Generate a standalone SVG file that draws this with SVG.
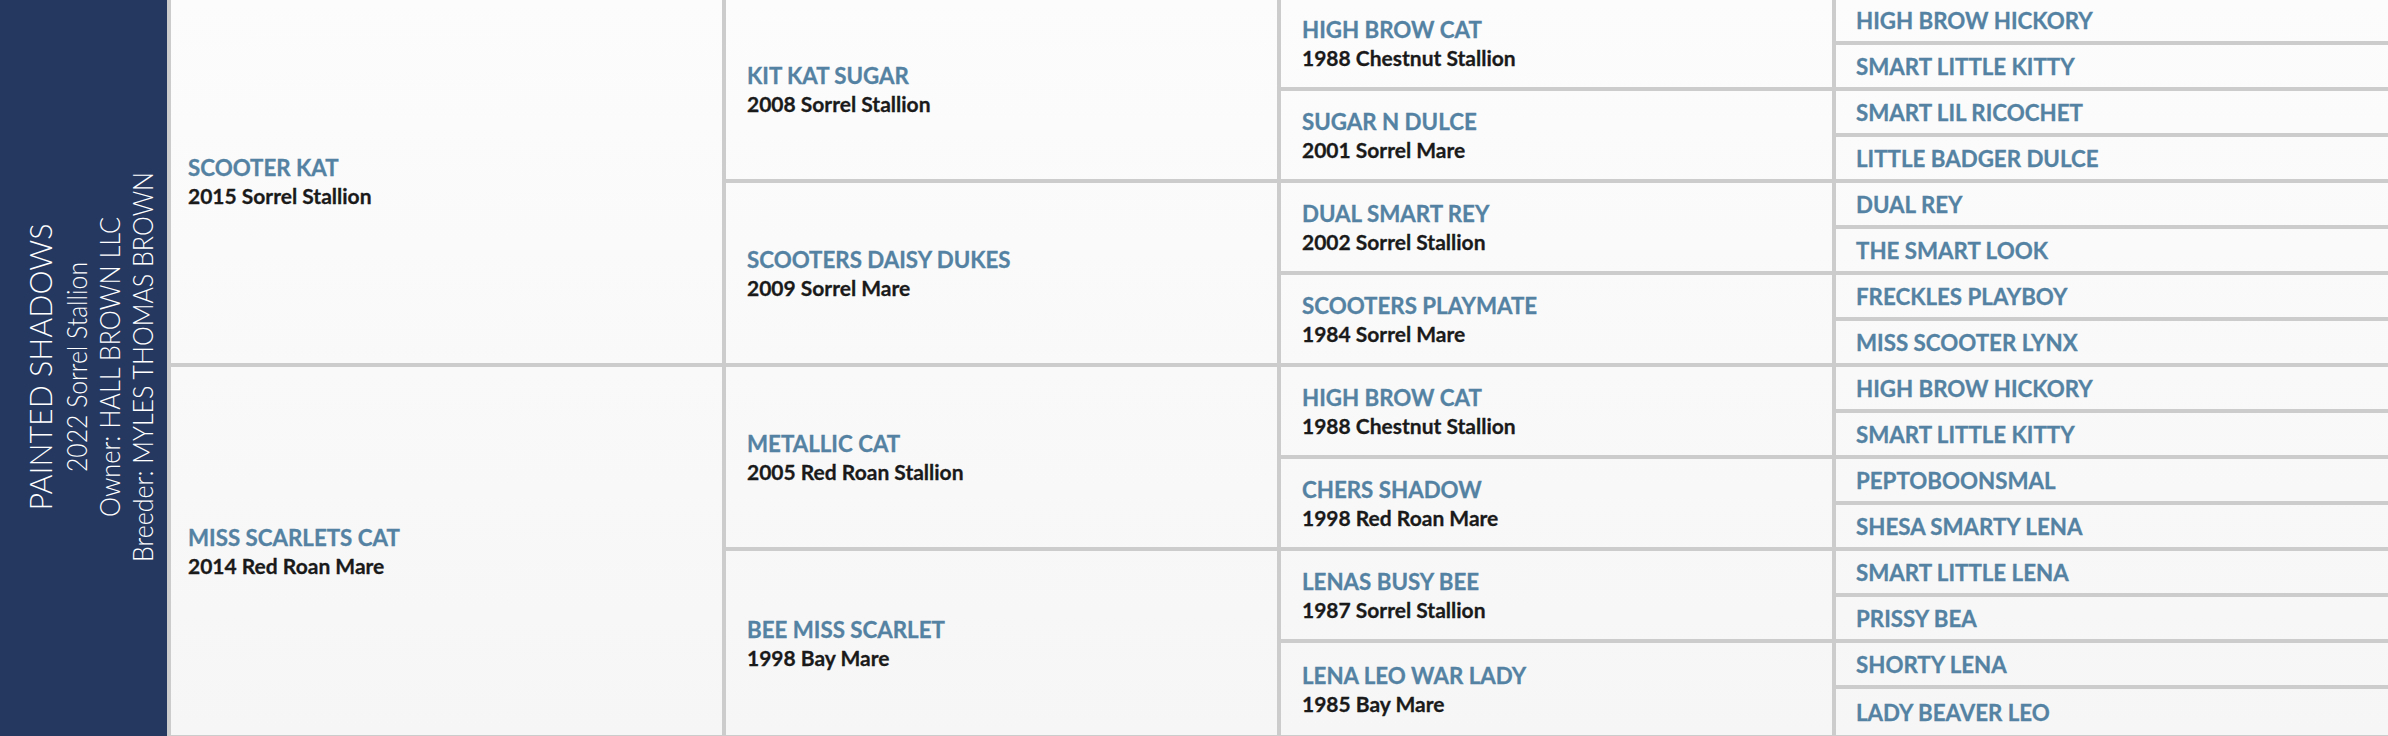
<svg xmlns="http://www.w3.org/2000/svg" width="2388" height="736" viewBox="0 0 2388 736">
<defs>
<linearGradient id="bg" x1="0" y1="0" x2="0" y2="1">
<stop offset="0" stop-color="#fcfcfc"/>
<stop offset="1" stop-color="#f6f6f6"/>
</linearGradient>
</defs>
<style>
.nm{font-family:Lato,"Liberation Sans",sans-serif;font-weight:700;font-size:22.3px;fill:#5482a2;stroke:#5482a2;stroke-width:0.3px}
.dt{font-family:Lato,"Liberation Sans",sans-serif;font-weight:700;font-size:21px;fill:#1a1a1a;stroke:#1a1a1a;stroke-width:0.3px}
.pt{font-family:Lato,"Liberation Sans",sans-serif;font-weight:300;fill:#ffffff}
.ln{fill:#cccccc}
</style>
<rect x="0" y="0" width="2388" height="736" fill="url(#bg)"/>
<g id="subject">
<rect x="0" y="0" width="167" height="736" fill="#25385f"/>
<text class="pt" font-size="32" text-anchor="middle" transform="translate(52,367) rotate(-90)" textLength="287" lengthAdjust="spacingAndGlyphs">PAINTED SHADOWS</text>
<text class="pt" font-size="27" text-anchor="middle" transform="translate(87,367) rotate(-90)" textLength="210" lengthAdjust="spacingAndGlyphs">2022 Sorrel Stallion</text>
<text class="pt" font-size="27" text-anchor="middle" transform="translate(120,367) rotate(-90)" textLength="300" lengthAdjust="spacingAndGlyphs">Owner: HALL BROWN LLC</text>
<text class="pt" font-size="27" text-anchor="middle" transform="translate(153,367) rotate(-90)" textLength="390" lengthAdjust="spacingAndGlyphs">Breeder: MYLES THOMAS BROWN</text>
</g>
<g id="connectors">
<rect class="ln" x="171" y="363" width="2217" height="4"/>
<rect class="ln" x="726" y="179" width="1662" height="4"/>
<rect class="ln" x="726" y="547" width="1662" height="4"/>
<rect class="ln" x="1281" y="87" width="1107" height="4"/>
<rect class="ln" x="1281" y="271" width="1107" height="4"/>
<rect class="ln" x="1281" y="455" width="1107" height="4"/>
<rect class="ln" x="1281" y="639" width="1107" height="4"/>
<rect class="ln" x="1836" y="41" width="552" height="4"/>
<rect class="ln" x="1836" y="133" width="552" height="4"/>
<rect class="ln" x="1836" y="225" width="552" height="4"/>
<rect class="ln" x="1836" y="317" width="552" height="4"/>
<rect class="ln" x="1836" y="409" width="552" height="4"/>
<rect class="ln" x="1836" y="501" width="552" height="4"/>
<rect class="ln" x="1836" y="593" width="552" height="4"/>
<rect class="ln" x="1836" y="685" width="552" height="4"/>
<rect class="ln" x="167" y="735" width="2221" height="1"/>
<rect class="ln" x="167" y="0" width="4" height="736"/>
<rect class="ln" x="722" y="0" width="4" height="736"/>
<rect class="ln" x="1277" y="0" width="4" height="736"/>
<rect class="ln" x="1832" y="0" width="4" height="736"/>
</g>
<g id="sire"><text class="nm" x="188" y="176">SCOOTER KAT</text><text class="dt" x="188" y="204">2015 Sorrel Stallion</text></g>
<g id="dam"><text class="nm" x="188" y="545.5">MISS SCARLETS CAT</text><text class="dt" x="188" y="573.5">2014 Red Roan Mare</text></g>
<g id="g2-1"><text class="nm" x="747" y="84">KIT KAT SUGAR</text><text class="dt" x="747" y="112">2008 Sorrel Stallion</text></g>
<g id="g2-2"><text class="nm" x="747" y="268">SCOOTERS DAISY DUKES</text><text class="dt" x="747" y="296">2009 Sorrel Mare</text></g>
<g id="g2-3"><text class="nm" x="747" y="452">METALLIC CAT</text><text class="dt" x="747" y="480">2005 Red Roan Stallion</text></g>
<g id="g2-4"><text class="nm" x="747" y="637.5">BEE MISS SCARLET</text><text class="dt" x="747" y="665.5">1998 Bay Mare</text></g>
<g id="g3-1"><text class="nm" x="1302" y="38">HIGH BROW CAT</text><text class="dt" x="1302" y="66">1988 Chestnut Stallion</text></g>
<g id="g3-2"><text class="nm" x="1302" y="129.5">SUGAR N DULCE</text><text class="dt" x="1302" y="157.5">2001 Sorrel Mare</text></g>
<g id="g3-3"><text class="nm" x="1302" y="221.5">DUAL SMART REY</text><text class="dt" x="1302" y="249.5">2002 Sorrel Stallion</text></g>
<g id="g3-4"><text class="nm" x="1302" y="313.5">SCOOTERS PLAYMATE</text><text class="dt" x="1302" y="341.5">1984 Sorrel Mare</text></g>
<g id="g3-5"><text class="nm" x="1302" y="405.5">HIGH BROW CAT</text><text class="dt" x="1302" y="433.5">1988 Chestnut Stallion</text></g>
<g id="g3-6"><text class="nm" x="1302" y="497.5">CHERS SHADOW</text><text class="dt" x="1302" y="525.5">1998 Red Roan Mare</text></g>
<g id="g3-7"><text class="nm" x="1302" y="589.5">LENAS BUSY BEE</text><text class="dt" x="1302" y="617.5">1987 Sorrel Stallion</text></g>
<g id="g3-8"><text class="nm" x="1302" y="683.5">LENA LEO WAR LADY</text><text class="dt" x="1302" y="711.5">1985 Bay Mare</text></g>
<g id="g4-1"><text class="nm" x="1856" y="29.3">HIGH BROW HICKORY</text></g>
<g id="g4-2"><text class="nm" x="1856" y="74.8">SMART LITTLE KITTY</text></g>
<g id="g4-3"><text class="nm" x="1856" y="120.8">SMART LIL RICOCHET</text></g>
<g id="g4-4"><text class="nm" x="1856" y="166.8">LITTLE BADGER DULCE</text></g>
<g id="g4-5"><text class="nm" x="1856" y="212.8">DUAL REY</text></g>
<g id="g4-6"><text class="nm" x="1856" y="258.8">THE SMART LOOK</text></g>
<g id="g4-7"><text class="nm" x="1856" y="304.8">FRECKLES PLAYBOY</text></g>
<g id="g4-8"><text class="nm" x="1856" y="350.8">MISS SCOOTER LYNX</text></g>
<g id="g4-9"><text class="nm" x="1856" y="396.8">HIGH BROW HICKORY</text></g>
<g id="g4-10"><text class="nm" x="1856" y="442.8">SMART LITTLE KITTY</text></g>
<g id="g4-11"><text class="nm" x="1856" y="488.8">PEPTOBOONSMAL</text></g>
<g id="g4-12"><text class="nm" x="1856" y="534.8">SHESA SMARTY LENA</text></g>
<g id="g4-13"><text class="nm" x="1856" y="580.8">SMART LITTLE LENA</text></g>
<g id="g4-14"><text class="nm" x="1856" y="626.8">PRISSY BEA</text></g>
<g id="g4-15"><text class="nm" x="1856" y="672.8">SHORTY LENA</text></g>
<g id="g4-16"><text class="nm" x="1856" y="720.8">LADY BEAVER LEO</text></g>
</svg>
